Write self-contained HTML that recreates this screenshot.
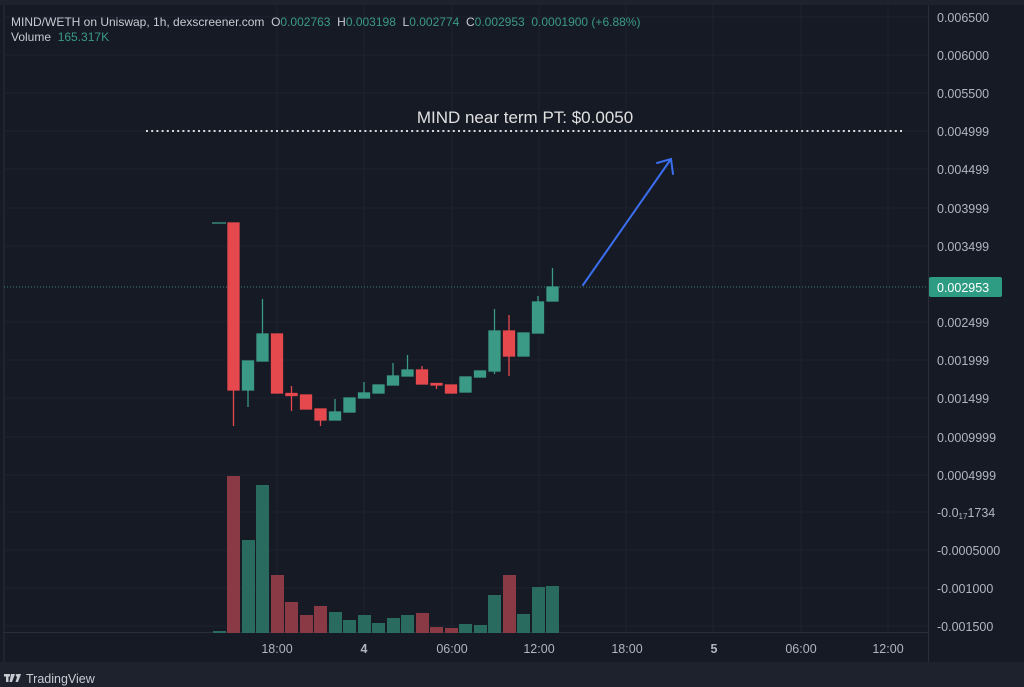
<!DOCTYPE html>
<html><head><meta charset="utf-8"><style>
html,body{margin:0;padding:0;background:#161a25;}
svg{display:block;font-family:"Liberation Sans",sans-serif;}
text{white-space:pre;}
</style></head><body>
<svg width="1024" height="687" viewBox="0 0 1024 687" xmlns="http://www.w3.org/2000/svg">
<rect width="1024" height="687" fill="#161a25"/>
<rect x="0" y="0" width="1024" height="5" fill="#1e222d"/>
<rect x="0" y="662" width="1024" height="25" fill="#1e222d"/>
<line x1="4" y1="5" x2="4" y2="662" stroke="#2a2e39"/>
<line x1="4" y1="632.5" x2="928" y2="632.5" stroke="#2a2e39"/>
<line x1="928.5" y1="5" x2="928.5" y2="662" stroke="#2a2e39"/>
<g stroke="#1f2330" stroke-width="1">
<line x1="4" y1="17" x2="928" y2="17"/><line x1="4" y1="55" x2="928" y2="55"/><line x1="4" y1="93" x2="928" y2="93"/><line x1="4" y1="131" x2="928" y2="131"/><line x1="4" y1="169" x2="928" y2="169"/><line x1="4" y1="208" x2="928" y2="208"/><line x1="4" y1="246" x2="928" y2="246"/><line x1="4" y1="322" x2="928" y2="322"/><line x1="4" y1="360" x2="928" y2="360"/><line x1="4" y1="398" x2="928" y2="398"/><line x1="4" y1="437" x2="928" y2="437"/><line x1="4" y1="475" x2="928" y2="475"/><line x1="4" y1="512" x2="928" y2="512"/><line x1="4" y1="550" x2="928" y2="550"/><line x1="4" y1="588" x2="928" y2="588"/><line x1="4" y1="626" x2="928" y2="626"/>
<line x1="277" y1="5" x2="277" y2="632"/><line x1="364" y1="5" x2="364" y2="632"/><line x1="452" y1="5" x2="452" y2="632"/><line x1="539" y1="5" x2="539" y2="632"/><line x1="626" y1="5" x2="626" y2="632"/><line x1="713" y1="5" x2="713" y2="632"/><line x1="801" y1="5" x2="801" y2="632"/><line x1="888" y1="5" x2="888" y2="632"/>
</g>
<g>
<rect x="213" y="631" width="13" height="2" fill="#2a6b60"/>
<rect x="227" y="476" width="13" height="157" fill="#8a3a44"/>
<rect x="242" y="540" width="13" height="93" fill="#2a6b60"/>
<rect x="256" y="485" width="13" height="148" fill="#2a6b60"/>
<rect x="271" y="575" width="13" height="58" fill="#8a3a44"/>
<rect x="285" y="602" width="13" height="31" fill="#8a3a44"/>
<rect x="300" y="615" width="13" height="18" fill="#8a3a44"/>
<rect x="314" y="606" width="13" height="27" fill="#8a3a44"/>
<rect x="329" y="612" width="13" height="21" fill="#2a6b60"/>
<rect x="343" y="620" width="13" height="13" fill="#2a6b60"/>
<rect x="358" y="615" width="13" height="18" fill="#2a6b60"/>
<rect x="372" y="623" width="13" height="10" fill="#2a6b60"/>
<rect x="387" y="618" width="13" height="15" fill="#2a6b60"/>
<rect x="401" y="615" width="13" height="18" fill="#2a6b60"/>
<rect x="416" y="613" width="13" height="20" fill="#8a3a44"/>
<rect x="430" y="627" width="13" height="6" fill="#8a3a44"/>
<rect x="445" y="628" width="13" height="5" fill="#8a3a44"/>
<rect x="459" y="624" width="13" height="9" fill="#2a6b60"/>
<rect x="474" y="625" width="13" height="8" fill="#2a6b60"/>
<rect x="488" y="595" width="13" height="38" fill="#2a6b60"/>
<rect x="503" y="575" width="13" height="58" fill="#8a3a44"/>
<rect x="517" y="614" width="13" height="19" fill="#2a6b60"/>
<rect x="532" y="587" width="13" height="46" fill="#2a6b60"/>
<rect x="546" y="586" width="13" height="47" fill="#2a6b60"/>
</g>
<line x1="4" y1="287" x2="928" y2="287" stroke="#3a7f74" stroke-dasharray="1 2"/>
<g stroke-width="1.3">
<line x1="212" y1="223" x2="226" y2="223" stroke="#3a9a85"/>
<g stroke="#e5484d" fill="#e5484d">
<line x1="233.5" y1="223" x2="233.5" y2="426"/><rect x="228" y="223" width="11" height="167"/>
<line x1="277" y1="334" x2="277" y2="393"/><rect x="271.5" y="334" width="11" height="59"/>
<line x1="291.5" y1="386" x2="291.5" y2="411"/><rect x="286" y="393.5" width="11" height="2"/>
<rect x="300.5" y="395" width="11" height="14"/>
<line x1="320.5" y1="409" x2="320.5" y2="426"/><rect x="315" y="409" width="11" height="11"/>
<line x1="422" y1="366" x2="422" y2="384"/><rect x="416.5" y="370" width="11" height="14"/>
<line x1="436.5" y1="384" x2="436.5" y2="389"/><rect x="431" y="383.5" width="11" height="1.5"/>
<rect x="445.5" y="385" width="11" height="8"/>
<line x1="509" y1="315" x2="509" y2="376"/><rect x="503.5" y="331" width="11" height="25"/>
</g>
<g stroke="#3a9a85" fill="#3a9a85">
<line x1="248" y1="361" x2="248" y2="407"/><rect x="242.5" y="361" width="11" height="29"/>
<line x1="262.5" y1="299" x2="262.5" y2="361"/><rect x="257" y="334" width="11" height="27"/>
<line x1="335" y1="399" x2="335" y2="420"/><rect x="329.5" y="412" width="11" height="8"/>
<rect x="344" y="398" width="11" height="14"/>
<line x1="364" y1="382" x2="364" y2="398"/><rect x="358.5" y="393" width="11" height="5"/>
<rect x="373" y="385" width="11" height="8"/>
<line x1="393" y1="363" x2="393" y2="385"/><rect x="387.5" y="376" width="11" height="9"/>
<line x1="407.5" y1="355" x2="407.5" y2="376"/><rect x="402" y="370" width="11" height="6"/>
<rect x="460" y="377" width="11" height="15"/>
<rect x="474.5" y="371" width="11" height="6"/>
<line x1="494.5" y1="309" x2="494.5" y2="374"/><rect x="489" y="331" width="11" height="40"/>
<rect x="518" y="333" width="11" height="23"/>
<line x1="538" y1="296" x2="538" y2="333"/><rect x="532.5" y="302" width="11" height="31"/>
<line x1="552.5" y1="268" x2="552.5" y2="287"/><rect x="547" y="287" width="11" height="14"/>
</g>
</g>
<line x1="146" y1="131" x2="904" y2="131" stroke="#d8d8d8" stroke-width="2" stroke-dasharray="2 3.2"/>
<text x="525" y="123" fill="#e0e0e0" font-size="17" text-anchor="middle">MIND near term PT: $0.0050</text>
<g stroke="#3b6ff0" stroke-width="2" fill="none" stroke-linecap="round">
<line x1="583" y1="285" x2="671" y2="159"/>
<polyline points="657,163 671,159 673,174"/>
</g>
<text x="11" y="26" font-size="12" fill="#c8cbd2">MIND/WETH on Uniswap, 1h, dexscreener.com  O<tspan fill="#3a9a85">0.002763</tspan>  H<tspan fill="#3a9a85">0.003198</tspan>  L<tspan fill="#3a9a85">0.002774</tspan>  C<tspan fill="#3a9a85">0.002953</tspan>  <tspan fill="#3a9a85">0.0001900 (+6.88%)</tspan></text>
<text x="11" y="41" font-size="12" fill="#c8cbd2">Volume  <tspan fill="#3a9a85">165.317K</tspan></text>
<g font-size="12.5" fill="#b2b5be">
<text x="937" y="22">0.006500</text><text x="937" y="60">0.006000</text><text x="937" y="98">0.005500</text><text x="937" y="136">0.004999</text><text x="937" y="174">0.004499</text><text x="937" y="213">0.003999</text><text x="937" y="251">0.003499</text><text x="937" y="327">0.002499</text><text x="937" y="365">0.001999</text><text x="937" y="403">0.001499</text><text x="937" y="442">0.0009999</text><text x="937" y="480">0.0004999</text><text x="937" y="517">-0.0<tspan font-size="8" dy="2">17</tspan><tspan dy="-2">1734</tspan></text><text x="937" y="555">-0.0005000</text><text x="937" y="593">-0.001000</text><text x="937" y="631">-0.001500</text>
</g>
<rect x="929" y="277" width="73" height="20" rx="2" fill="#2e9c83"/>
<text x="937" y="292" font-size="12.5" fill="#ffffff">0.002953</text>
<g font-size="12.5" fill="#b2b5be" text-anchor="middle">
<text x="277" y="653">18:00</text><text x="364" y="653" font-weight="bold">4</text><text x="452" y="653">06:00</text><text x="539" y="653">12:00</text><text x="627" y="653">18:00</text><text x="714" y="653" font-weight="bold">5</text><text x="801" y="653">06:00</text><text x="888" y="653">12:00</text>
</g>
<g fill="#c8cbd2">
<rect x="4" y="674" width="6" height="2.5"/><rect x="6" y="674" width="2.5" height="8"/>
<path d="M11 674 h4 l-3 8 h-2.5z"/><circle cx="17" cy="675.3" r="1.3"/><path d="M18 674 h3 l-3 8 h-2.5z"/>
</g>
<text x="26" y="683" font-size="12.5" fill="#c8cbd2">TradingView</text>
</svg>
</body></html>
